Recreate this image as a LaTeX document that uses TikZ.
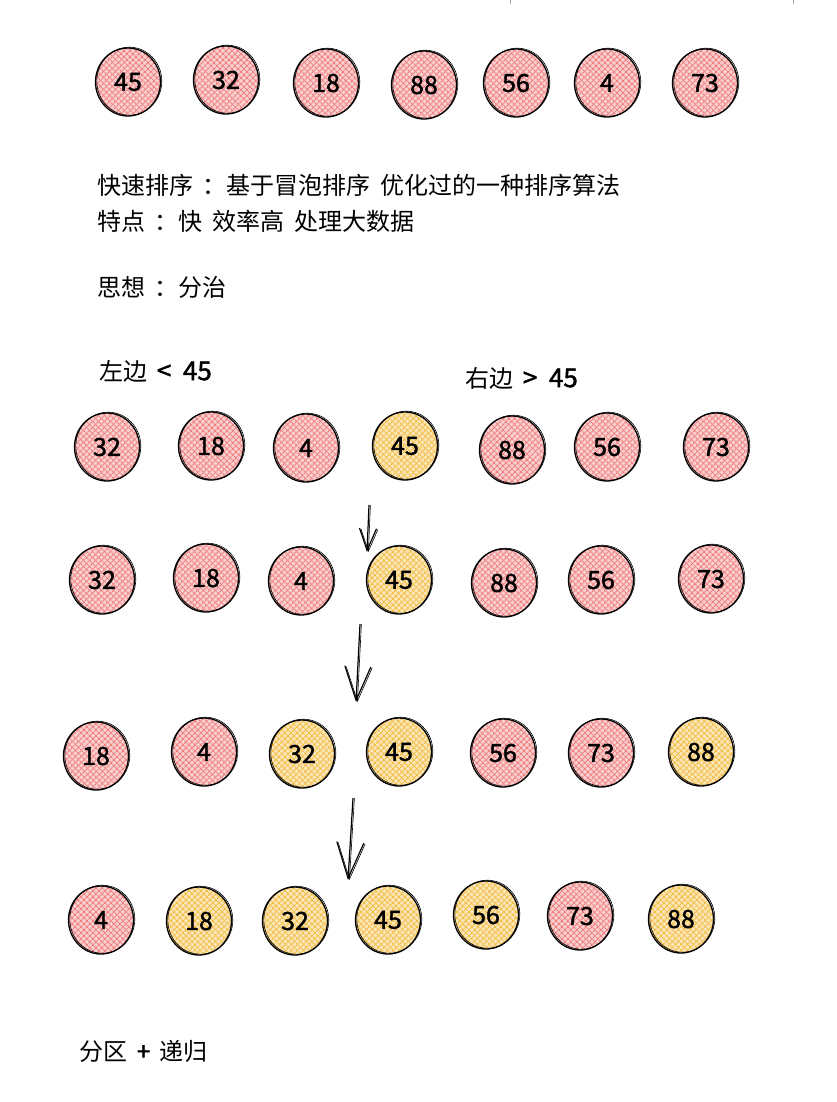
\documentclass[tikz,border=0pt]{standalone}
\usepackage{fontspec}
\setmainfont[WordSpace=1.8]{Noto Sans CJK SC}
\newfontfamily\numfont[FakeBold=1.6, WordSpace=2]{Noto Sans CJK SC}
\usetikzlibrary{
	arrows.meta,
	shapes.geometric,
	patterns.meta
}
\definecolor{hatchred}{HTML}{EE8080}
\definecolor{hatchgold}{HTML}{F3BE45}
\tikzset{
	ball/.style={ellipse, minimum width=65pt, minimum height=68pt, inner sep=0pt,
		draw=black, line width=1.3pt, font=\numfont\fontsize{25}{25}\selectfont,
		postaction={draw=black, line width=0.6pt, transform canvas={xshift=1.3pt, yshift=0.8pt}}},
	hatch/.style={preaction={fill=#1!38},
		preaction={pattern={Lines[angle=45, distance=4pt, line width=1.2pt]}, pattern color=#1},
		preaction={pattern={Lines[angle=-45, distance=4pt, line width=1.2pt]}, pattern color=#1}},
	pinkball/.style={ball, hatch=hatchred},
	goldball/.style={ball, hatch=hatchgold},
	note/.style={anchor=west, inner sep=0pt, font=\fontsize{24}{28}\selectfont},
	sketch/.style={line width=1.2pt,
		postaction={draw, line width=0.6pt, transform canvas={xshift=1.4pt}}}
}

\begin{document}
\begin{tikzpicture}[x=1pt, y=-1pt]
		\useasboundingbox (0,0) rectangle (836,1102);
		\fill[white] (0,0) rectangle (836,1102);
		\draw[gray!70, line width=1pt] (510,0)--(510,4);
		\draw[gray!70, line width=1pt] (793,0)--(793,4);
		% first row
		\node[pinkball] (a1) at (128,82) {45};
		\node[pinkball] (a2) at (226,80) {32};
		\node[pinkball] (a3) at (326,83) {18};
		\node[pinkball] (a4) at (424,85) {88};
		\node[pinkball] (a5) at (516,83) {56};
		\node[pinkball] (a6) at (607,83) {4};
		\node[pinkball] (a7) at (705,83) {73};
		% text
		\node[note] (t1) at (97,185) {快速排序 ：基于冒泡排序 优化过的一种排序算法};
		\node[note] (t2) at (97,221) {特点 ：快 效率高 处理大数据};
		\node[note] (t3) at (97,287) {思想 ：分治};
		\node[note] (lt) at (99,371) {左边 {\numfont\fontsize{26}{28}\selectfont < 45}};
		\node[note] (gt) at (465,378) {右边 {\numfont\fontsize{26}{28}\selectfont > 45}};
		% second row
		\node[pinkball] (b1) at (107,447) {32};
		\node[pinkball] (b2) at (211,446) {18};
		\node[pinkball] (b3) at (306,448) {4};
		\node[goldball] (b4) at (405,446) {45};
		\node[pinkball] (b5) at (512,450) {88};
		\node[pinkball] (b6) at (607,447) {56};
		\node[pinkball] (b7) at (716,447) {73};
		% third row
		\node[pinkball] (c1) at (102,580) {32};
		\node[pinkball] (c2) at (206,578) {18};
		\node[pinkball] (c3) at (301,581) {4};
		\node[goldball] (c4) at (399,580) {45};
		\node[pinkball] (c5) at (504,583) {88};
		\node[pinkball] (c6) at (601,580) {56};
		\node[pinkball] (c7) at (711,579) {73};
		% fourth row
		\node[pinkball] (d1) at (96,756) {18};
		\node[pinkball] (d2) at (204,752) {4};
		\node[goldball] (d3) at (302,754) {32};
		\node[goldball] (d4) at (399,752) {45};
		\node[pinkball] (d5) at (503,753) {56};
		\node[pinkball] (d6) at (601,753) {73};
		\node[goldball] (d7) at (701,752) {88};
		% fifth row
		\node[pinkball] (e1) at (101,920) {4};
		\node[goldball] (e2) at (199,921) {18};
		\node[goldball] (e3) at (295,921) {32};
		\node[goldball] (e4) at (388,920) {45};
		\node[goldball] (e5) at (486,915) {56};
		\node[pinkball] (e6) at (580,916) {73};
		\node[goldball] (e7) at (681,919) {88};
		\node[note] (sum) at (79,1051) {分区 {\numfont +} 递归};
		% arrows
		\coordinate (s1) at (369,505);
		\coordinate (f1) at (367,552);
		\coordinate (s2) at (360,624);
		\coordinate (f2) at (356,702);
		\coordinate (s3) at (353,798);
		\coordinate (f3) at (348,880);
		\draw[sketch, -{Straight Barb[length=22pt, width=17pt]}] (s1)--(f1);
		\draw[sketch, -{Straight Barb[length=34pt, width=26pt]}] (s2)--(f2);
		\draw[sketch, -{Straight Barb[length=36pt, width=27pt]}] (s3)--(f3);
	\end{tikzpicture}
\end{document}
